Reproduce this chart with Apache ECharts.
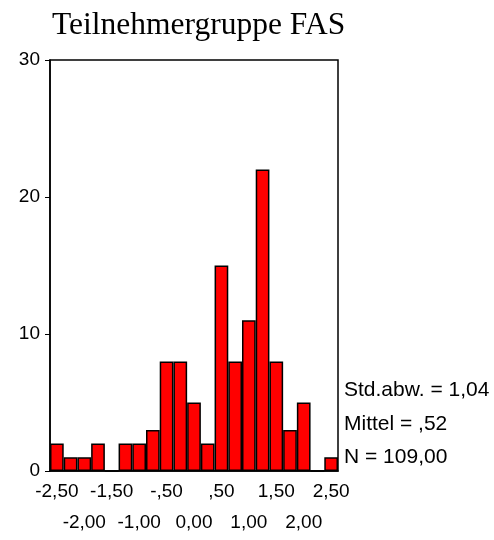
<!DOCTYPE html>
<html>
<head>
<meta charset="utf-8">
<script src="https://cdn.jsdelivr.net/npm/echarts@6/dist/echarts.min.js"></script>
<style>
  html, body { margin: 0; padding: 0; background: #fff; }
</style>
</head>
<body>
<div id="chart1" style="width:494px;height:540px"></div>
<script>
// Bin centers (width 0,25) and counts per bin
var binCenters = [-2.5, -2.25, -2, -1.75, -1.5, -1.25, -1, -0.75, -0.5, -0.25, 0,
                  0.25, 0.5, 0.75, 1, 1.25, 1.5, 1.75, 2, 2.25, 2.5];
var counts = [2, 1, 1, 2, 0, 2, 2, 3, 8, 8, 5, 2, 15, 8, 11, 22, 8, 3, 5, 0, 1];
// labels every 0,50, staggered on two rows
var tickLabels = ["-2,50", "-2,00", "-1,50", "-1,00", "-,50", "0,00",
                  ",50", "1,00", "1,50", "2,00", "2,50"];
var yTicks = [0, 10, 20, 30];
var statsLines = ["Std.abw. = 1,04", "Mittel = ,52", "N = 109,00"];

var myChart = echarts.init(document.getElementById("chart1"));

// row 0: -2,50 -1,50 ... ; row 1: -2,00 -1,00 ...
function labelStyle(row) {
  return {
    interval: 0,
    showMinLabel: true,
    showMaxLabel: true,
    hideOverlap: false,
    margin: 11,
    fontFamily: "Liberation Sans",
    fontSize: 19,
    color: "#000",
    formatter: function (value, index) {
      return index % 4 === row * 2 ? tickLabels[index / 2] : "";
    }
  };
}

var option = {
  animation: false,
  backgroundColor: "#fff",
  title: {
    text: "Teilnehmergruppe FAS",
    left: 47,
    top: 5,
    textStyle: {
      fontFamily: "Liberation Serif",
      fontWeight: "normal",
      fontSize: 31.5,
      color: "#000"
    }
  },
  grid: {
    left: 50,
    right: 156,
    top: 60,
    bottom: 69,
    show: true,
    borderColor: "#000",
    borderWidth: 1.5
  },
  xAxis: [
    {
      type: "category",
      data: binCenters,
      boundaryGap: true,
      position: "bottom",
      axisLine: { lineStyle: { color: "#000", width: 1.5 } },
      axisTick: {
        interval: 1,
        alignWithLabel: true,
        length: 5,
        lineStyle: { color: "#000", width: 1 }
      },
      axisLabel: labelStyle(0),
      splitLine: { show: false }
    },
    {
      // second row of staggered labels
      type: "category",
      data: binCenters,
      boundaryGap: true,
      position: "bottom",
      offset: 31,
      axisLine: { show: false },
      axisTick: { show: false },
      axisLabel: labelStyle(1),
      splitLine: { show: false }
    }
  ],
  yAxis: {
    type: "value",
    min: yTicks[0],
    max: yTicks[yTicks.length - 1],
    interval: 10,
    axisLine: { show: true, lineStyle: { color: "#000", width: 1.5 } },
    axisTick: { show: true, length: 5, lineStyle: { color: "#000" } },
    axisLabel: {
      margin: 10,
      fontFamily: "Liberation Sans",
      fontSize: 19,
      color: "#000"
    },
    splitLine: { show: false }
  },
  graphic: statsLines.map(function (s, i) {
    return {
      type: "text",
      left: 344,
      top: 380 + i * 33.5,
      style: {
        text: s,
        font: "21px Liberation Sans",
        fill: "#000"
      }
    };
  }),
  series: [
    {
      type: "bar",
      xAxisIndex: 0,
      data: counts,
      barCategoryGap: 0,
      itemStyle: {
        color: "#ff0000",
        borderColor: "#000",
        borderWidth: 1.5
      }
    }
  ]
};

myChart.setOption(option);
</script>
</body>
</html>
